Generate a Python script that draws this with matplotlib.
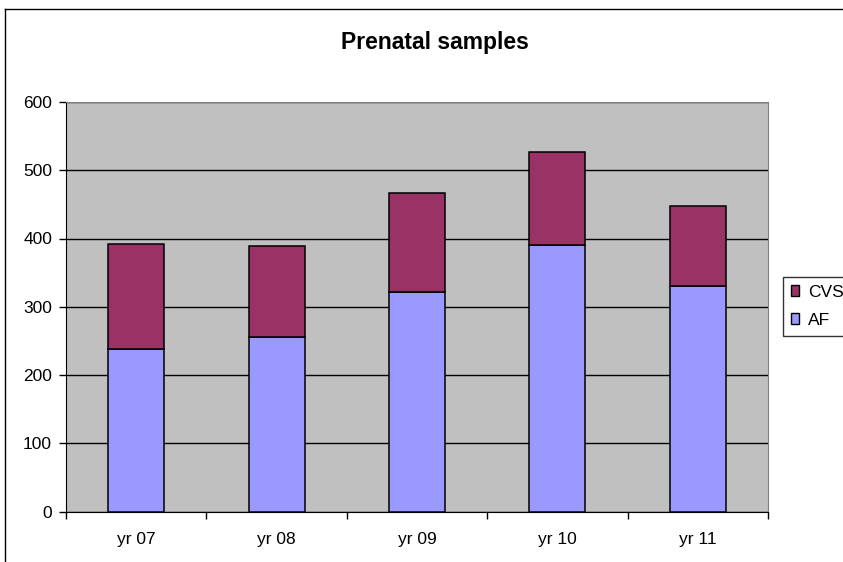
import numpy as np
import matplotlib.pyplot as plt
from matplotlib.lines import Line2D
from matplotlib.patches import Patch

plt.rcParams['font.family'] = ['Liberation Sans', 'DejaVu Sans']

# данные
years = ['yr 07', 'yr 08', 'yr 09', 'yr 10', 'yr 11']
af = [238, 255, 322, 390, 330]
cvs = [154, 134, 144, 137, 118]

W, H = 843, 562
fig = plt.figure(figsize=(W / 100, H / 100), dpi=100)
fig.patch.set_facecolor('white')

# рамка области диаграммы (правая и нижняя стороны уходят за край)
fig.add_artist(Line2D([4.5 / W, 4.5 / W], [0, 1 - 9 / H], transform=fig.transFigure, color='black', lw=1))
fig.add_artist(Line2D([4.5 / W, 1], [1 - 9 / H, 1 - 9 / H], transform=fig.transFigure, color='black', lw=1))

left, right, top, bottom = 66, 768, 102, 511.5
ax = fig.add_axes([left / W, 1 - bottom / H, (right - left) / W, (bottom - top) / H])
ax.set_facecolor('#C0C0C0')

x = np.arange(len(years))
ax.bar(x, af, width=0.4, color='#9999FF', edgecolor='black', linewidth=1.1, zorder=3)
ax.bar(x, cvs, width=0.4, bottom=af, color='#993366', edgecolor='black', linewidth=1.1, zorder=3)

ax.set_xlim(-0.5, len(years) - 0.5)
ax.set_ylim(0, 600)
ax.set_yticks(range(0, 601, 100))
ax.yaxis.grid(True, color='black', lw=1, zorder=1)
ax.set_axisbelow(True)

ax.set_xticks(x)
ax.set_xticklabels(years, fontsize=12.5)
ax.set_xticks(np.arange(-0.5, len(years)), minor=True)
ax.tick_params(axis='x', which='major', length=0, pad=15)
ax.tick_params(axis='x', which='minor', length=5, direction='out', color='black', width=1)
ax.tick_params(axis='y', length=5, direction='out', color='black', width=1, labelsize=12.5, pad=5)

for s in ['top', 'right']:
    ax.spines[s].set_color('#808080')
for s in ['left', 'bottom']:
    ax.spines[s].set_color('black')

fig.text(435 / W, 1 - 42 / H, 'Prenatal samples', ha='center', va='center',
         fontsize=16.5, fontweight='bold')

handles = [Patch(facecolor='#993366', edgecolor='black', label='CVS'),
           Patch(facecolor='#9999FF', edgecolor='black', label='AF')]
fig.legend(handles=handles, loc='upper left', bbox_to_anchor=(783 / W, 1 - 277 / H),
           frameon=True, fancybox=False, edgecolor='black', fontsize=12.5,
           handlelength=0.5, handleheight=0.55, handletextpad=0.5,
           borderpad=0.45, labelspacing=0.75, borderaxespad=0)

fig.savefig('out.png', dpi=100)
